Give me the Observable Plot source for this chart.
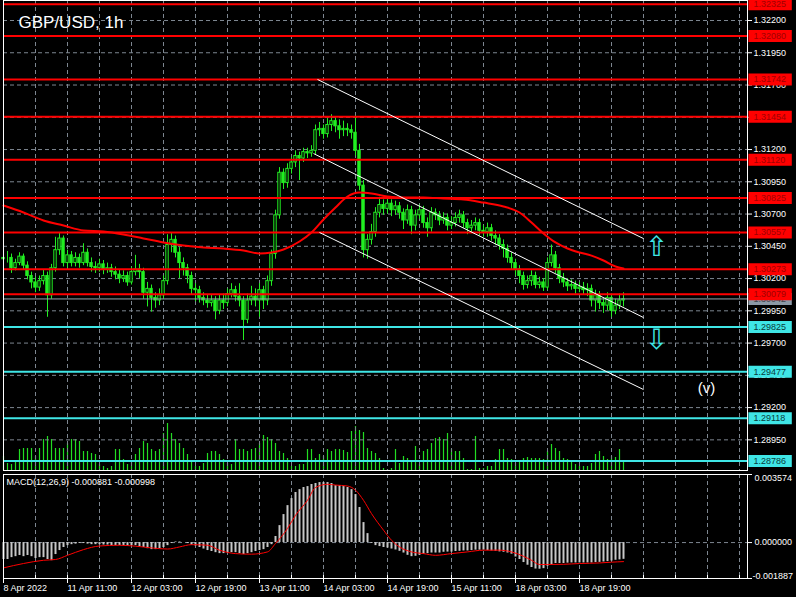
<!DOCTYPE html>
<html><head><meta charset="utf-8">
<script src="https://cdn.jsdelivr.net/npm/d3@7"></script>
<script src="https://cdn.jsdelivr.net/npm/@observablehq/plot@0.6"></script>
<style>
html,body{margin:0;padding:0;background:#000;}
#wrap{position:relative;width:796px;height:597px;overflow:hidden;background:#000;}
#wrap svg{position:absolute;left:0;}
</style></head><body><div id="wrap"></div>
<script>
// ---------------- DATA ----------------
const title = "GBP/USD, 1h";
const macdLabel = "MACD(12,26,9) -0.000881 -0.000998";
const timeLabels = ["8 Apr 2022","11 Apr 11:00","12 Apr 03:00","12 Apr 19:00","13 Apr 11:00","14 Apr 03:00","14 Apr 19:00","15 Apr 11:00","18 Apr 03:00","18 Apr 19:00"];
const labelBars = [0,16,32,48,64,80,96,112,128,144];
const gridBars = [8,16,24,32,40,48,56,64,72,80,88,96,104,112,120,128,136,144,152,160,168,176,184];
const priceTicks = [1.2895,1.2920,1.2945,1.2970,1.2995,1.3020,1.3045,1.3070,1.3095,1.3120,1.3145,1.3170,1.3195,1.3220];
const redLevels = [1.32325,1.32080,1.31742,1.31454,1.31120,1.30825,1.30557,1.30273,1.30079];
const cyanLevels = [1.29825,1.29477,1.29118,1.28786];
const bidPrice = 1.30042;
const macdTicks = [-0.001887,0,0.003574];

const open = [1.3035,1.3036,1.3036,1.3028,1.3032,1.3037,1.3030,1.3022,1.3017,1.3013,
1.3018,1.3022,1.3007,1.3028,1.3042,1.3051,1.3032,1.3038,1.3032,1.3036,
1.3032,1.3040,1.3032,1.3029,1.3028,1.3031,1.3027,1.3028,1.3025,1.3023,
1.3020,1.3022,1.3017,1.3025,1.3027,1.3025,1.3009,1.3012,1.3005,1.3003,
1.3007,1.3018,1.3046,1.3050,1.3040,1.3032,1.3028,1.3022,1.3012,1.3011,
1.3005,1.3003,1.3001,1.3003,1.2995,1.3003,1.3001,1.3008,1.3011,1.3006,
1.3003,1.2988,1.3003,1.3006,1.3003,1.3011,1.3003,1.3018,1.3039,1.3069,
1.3102,1.3094,1.3105,1.3110,1.3115,1.3113,1.3118,1.3117,1.3119,1.3135,
1.3136,1.3132,1.3139,1.3142,1.3138,1.3135,1.3136,1.3135,1.3133,1.3119,
1.3092,1.3042,1.3050,1.3056,1.3071,1.3077,1.3074,1.3078,1.3073,1.3076,
1.3071,1.3065,1.3073,1.3061,1.3069,1.3073,1.3063,1.3059,1.3071,1.3069,
1.3065,1.3067,1.3061,1.3063,1.3067,1.3069,1.3063,1.3059,1.3061,1.3063,
1.3057,1.3056,1.3059,1.3053,1.3051,1.3046,1.3043,1.3036,1.3032,1.3027,
1.3022,1.3015,1.3018,1.3022,1.3015,1.3017,1.3013,1.3032,1.3038,1.3028,
1.3020,1.3017,1.3014,1.3015,1.3012,1.3013,1.3011,1.3012,1.3003,
1.3007,1.3001,1.2999,1.3005,1.2995,1.2999,1.3003];
const high = [1.3040,1.3041,1.3039,1.3035,1.3040,1.3039,1.3033,1.3025,1.3021,1.3022,
1.3027,1.3025,1.3031,1.3052,1.3055,1.3053,1.3042,1.3041,1.3040,1.3039,
1.3047,1.3043,1.3036,1.3033,1.3035,1.3034,1.3032,1.3031,1.3029,1.3027,
1.3026,1.3025,1.3029,1.3038,1.3031,1.3028,1.3017,1.3015,1.3009,1.3012,
1.3022,1.3054,1.3055,1.3053,1.3044,1.3036,1.3031,1.3025,1.3016,1.3014,
1.3009,1.3007,1.3007,1.3006,1.3007,1.3008,1.3012,1.3016,1.3014,1.3016,
1.3006,1.3008,1.3014,1.3012,1.3016,1.3014,1.3022,1.3042,1.3073,1.3106,
1.3105,1.3109,1.3114,1.3119,1.3118,1.3121,1.3121,1.3123,1.3139,1.3141,
1.3139,1.3144,1.3147,1.3145,1.3143,1.3142,1.3140,1.3139,1.3146,1.3124,
1.3096,1.3054,1.3062,1.3075,1.3083,1.3081,1.3082,1.3081,1.3080,1.3079,
1.3074,1.3077,1.3076,1.3073,1.3077,1.3076,1.3067,1.3075,1.3074,1.3072,
1.3071,1.3070,1.3068,1.3071,1.3073,1.3072,1.3066,1.3065,1.3067,1.3066,
1.3061,1.3063,1.3062,1.3057,1.3054,1.3050,1.3046,1.3040,1.3035,1.3030,
1.3025,1.3022,1.3026,1.3025,1.3021,1.3020,1.3036,1.3046,1.3041,1.3031,
1.3024,1.3020,1.3019,1.3018,1.3017,1.3017,1.3016,1.3015,1.3011,
1.3010,1.3005,1.3009,1.3008,1.3004,1.3008,1.3009];
const low = [1.3031,1.3032,1.3024,1.3026,1.3030,1.3027,1.3019,1.3012,1.3009,1.3010,
1.3015,1.2990,1.3004,1.3025,1.3038,1.3029,1.3028,1.3029,1.3029,1.3028,
1.3030,1.3029,1.3025,1.3024,1.3025,1.3023,1.3024,1.3021,1.3019,1.3016,
1.3017,1.3014,1.3015,1.3022,1.3020,1.3004,1.2998,1.2994,1.2997,1.2999,
1.3004,1.3015,1.3040,1.3036,1.3020,1.3022,1.3016,1.3007,1.3002,1.3001,
1.2999,1.2997,1.2998,1.2988,1.2992,1.2996,1.2998,1.3005,1.3002,1.2998,
1.2972,1.2985,1.2999,1.2998,1.2990,1.2996,1.2999,1.3014,1.3035,1.3066,
1.3089,1.3090,1.3101,1.3106,1.3096,1.3110,1.3113,1.3114,1.3116,1.3130,
1.3128,1.3129,1.3134,1.3133,1.3128,1.3130,1.3130,1.3128,1.3115,1.3088,
1.3036,1.3035,1.3046,1.3052,1.3067,1.3069,1.3070,1.3068,1.3069,1.3066,
1.3058,1.3062,1.3054,1.3057,1.3066,1.3059,1.3052,1.3056,1.3065,1.3061,
1.3062,1.3057,1.3058,1.3060,1.3063,1.3059,1.3054,1.3055,1.3057,1.3053,
1.3052,1.3052,1.3049,1.3046,1.3042,1.3036,1.3032,1.3027,1.3022,1.3016,
1.3011,1.3012,1.3014,1.3012,1.3012,1.3010,1.3011,1.3029,1.3024,1.3016,
1.3013,1.3010,1.3011,1.3008,1.3009,1.3007,1.3006,1.2998,1.2994,
1.2996,1.2993,1.2995,1.2990,1.2992,1.2996,1.2998];
const close = [1.3036,1.3036,1.3028,1.3032,1.3037,1.3030,1.3022,1.3017,1.3013,1.3018,
1.3022,1.3007,1.3028,1.3042,1.3051,1.3032,1.3038,1.3032,1.3036,1.3032,
1.3040,1.3032,1.3029,1.3028,1.3031,1.3027,1.3028,1.3025,1.3023,1.3020,
1.3022,1.3017,1.3025,1.3027,1.3025,1.3009,1.3012,1.3005,1.3003,1.3007,
1.3018,1.3046,1.3050,1.3040,1.3032,1.3028,1.3022,1.3012,1.3011,1.3005,
1.3003,1.3001,1.3003,1.2995,1.3003,1.3001,1.3008,1.3011,1.3006,1.3003,
1.2988,1.3003,1.3006,1.3003,1.3011,1.3003,1.3018,1.3039,1.3069,1.3102,
1.3094,1.3105,1.3110,1.3115,1.3113,1.3118,1.3117,1.3119,1.3135,1.3136,
1.3132,1.3139,1.3142,1.3138,1.3135,1.3136,1.3135,1.3133,1.3119,1.3092,
1.3042,1.3050,1.3056,1.3071,1.3077,1.3074,1.3078,1.3073,1.3076,1.3071,
1.3065,1.3073,1.3061,1.3069,1.3073,1.3063,1.3059,1.3071,1.3069,1.3065,
1.3067,1.3061,1.3063,1.3067,1.3069,1.3063,1.3059,1.3061,1.3063,1.3057,
1.3056,1.3059,1.3053,1.3051,1.3046,1.3043,1.3036,1.3032,1.3027,1.3022,
1.3015,1.3018,1.3022,1.3015,1.3017,1.3013,1.3032,1.3038,1.3028,1.3020,
1.3017,1.3014,1.3015,1.3012,1.3013,1.3011,1.3012,1.3003,1.3007,
1.3001,1.2999,1.3005,1.2995,1.2999,1.3003,1.3004];
const volume = [1400,700,600,900,2100,2200,2200,2200,1400,2200,
3100,3400,3100,2200,2200,2200,2700,3100,3100,2900,
1900,1900,1700,1600,600,400,200,400,2100,2100,
1100,600,900,1600,2200,2900,2700,2100,1900,2100,
3700,4700,3700,3100,2700,2200,1600,900,400,400,
700,1700,1900,1900,1600,1100,700,600,3100,2100,
2100,1900,2100,2200,2700,3500,3300,3100,2700,1900,
1700,1200,400,400,600,600,2100,2100,1200,1600,
1400,2100,1900,2100,2100,2000,1800,3900,4400,4000,
3800,2200,1900,1700,1200,200,100,200,2100,700,
1400,1200,900,2400,600,1900,2100,2700,3200,3300,
3100,3700,2100,1900,1900,1200,100,100,3400,200,
200,400,400,1100,2100,2100,1200,1100,700,900,
1200,1300,1200,1200,1200,1100,1900,2600,2200,1900,
1200,1100,900,600,400,400,400,700,1600,1900,
1400,1100,1400,1300,2100,800];
const macdHist = [-0.00089,-0.00089,-0.00079,-0.00074,-0.00068,-0.00074,-0.00068,-0.00074,-0.00084,-0.00079,
-0.00079,-0.00089,-0.00095,-0.00063,-0.00042,-0.00026,-0.00016,-0.00011,-0.00008,-0.00005,
-0.00005,-0.00008,-0.00011,-0.00011,-0.00011,-0.00013,-0.00013,-0.00016,-0.00016,-0.00016,
-0.00016,-0.00018,-0.00016,-0.00016,-0.00021,-0.00026,-0.00032,-0.00037,-0.00037,-0.00032,
-0.00026,-0.00016,-0.00005,0.00003,0.00003,0,-0.00005,-0.00013,-0.00018,-0.00026,
-0.00034,-0.00042,-0.00047,-0.00053,-0.00058,-0.00058,-0.00053,-0.00053,-0.00053,-0.00058,
-0.00063,-0.00058,-0.00053,-0.00047,-0.00042,-0.00037,-0.00026,-0.00011,0.00032,0.00089,
0.00147,0.00194,0.00231,0.00263,0.00278,0.00289,0.00294,0.00305,0.00310,0.00315,
0.00315,0.00315,0.00310,0.00299,0.00299,0.00294,0.00289,0.00278,0.00252,0.00184,
0.00105,0.00047,-0.00005,-0.00016,-0.00021,-0.00026,-0.00029,-0.00034,-0.00039,-0.00046,
-0.00055,-0.00067,-0.00074,-0.00072,-0.00067,-0.00061,-0.00058,-0.00055,-0.00055,-0.00055,
-0.00051,-0.00050,-0.00050,-0.00047,-0.00046,-0.00044,-0.00044,-0.00042,-0.00040,-0.00040,
-0.00040,-0.00042,-0.00044,-0.00046,-0.00049,-0.00051,-0.00055,-0.00061,-0.00076,-0.00089,
-0.00105,-0.00119,-0.00131,-0.00139,-0.00140,-0.00137,-0.00124,-0.00116,-0.00110,-0.00110,
-0.00110,-0.00108,-0.00107,-0.00107,-0.00107,-0.00107,-0.00107,-0.00107,-0.00105,
-0.00104,-0.00102,-0.00100,-0.00097,-0.00093,-0.00091,-0.00088];
const signalBars = [0,5,10,13,16,20,24,29,33,37,41,44,47,51,54,58,62,66,68,71,73,76,78,81,83,86,88,90,92,95,97,99,102,105,108,112,116,120,124,127,130,132,134,136,140,144,149,152,155];
const signalValues = [-0.00133,-0.0011,-0.00093,-0.00089,-0.00067,-0.00037,-0.00018,-0.00014,-0.00019,-0.00028,-0.00034,-0.00023,-0.00011,-0.00014,-0.0004,-0.00058,-0.00061,-0.00049,-0.00005,0.00074,0.00143,0.00222,0.00289,0.00306,0.00302,0.00297,0.00275,0.00222,0.00152,0.00065,0.00012,-0.00023,-0.00049,-0.00058,-0.00067,-0.00058,-0.00049,-0.0004,-0.0004,-0.00049,-0.00072,-0.00093,-0.00115,-0.00115,-0.00114,-0.0011,-0.00107,-0.00103,-0.00100];
const maBars = [0,5,10,15,20,25,30,35,40,45,50,55,60,64,67,70,74,77,80,83,86,89,92,96,100,105,110,115,120,125,129,132,135,138,141,144,147,150,153,155];
const maValues = [1.30766,1.30712,1.3065,1.30611,1.30573,1.30565,1.30542,1.30511,1.3048,1.30456,1.30441,1.30433,1.30418,1.30394,1.30402,1.30425,1.30487,1.30557,1.30658,1.30751,1.30836,1.30867,1.30859,1.30836,1.30828,1.30828,1.3082,1.30813,1.30789,1.30759,1.30712,1.30635,1.3055,1.3048,1.30433,1.30402,1.30378,1.3034,1.30293,1.30278];
const channelStartBar = [78.5,77.5,79];
const channelStartPrice = [1.31743,1.31169,1.30557];
const channelEndBar = [160,160,160];
const channelEndPrice = [1.30510,1.29898,1.29340];
const annotations = [
  {bar:163.25, price:1.30441, text:"⇧", kind:"arrow"},
  {bar:163.25, price:1.29720, text:"⇩", kind:"arrow"},
  {bar:175.75, price:1.29348, text:"(v)", kind:"label"}
];

// ---------------- DRAWING ----------------
const FONT = '"Liberation Sans", Arial, sans-serif';
const GRID = "#7d8690";
const RED = "#ff0000";
const CYAN = "#3fe6e6";
const CANDLE = "#22ee22";
const VOL = "#22dd22";
const X_DOMAIN = [0, 186];
const BOX1 = 186.35, BOX2 = 197.2;

const bars = close.map((c, i) => ({i, o: open[i], h: high[i], l: low[i], c}));
const vols = volume.map((v, i) => ({i, v}));
const hist = macdHist.map((v, i) => ({i, v}));
const ma = maBars.map((b, k) => ({b, v: maValues[k]}));
const sig = signalBars.map((b, k) => ({b, v: signalValues[k]}));
const channels = channelStartBar.map((b, k) => ({x1: b, y1: channelStartPrice[k], x2: channelEndBar[k], y2: channelEndPrice[k]}));

const common = {
  width: 796, marginLeft: 3, marginRight: 49,
  style: {background: "transparent", color: "white", fontFamily: FONT, fontSize: "9px", overflow: "visible"}
};

const volPlot = Plot.plot({
  ...common, height: 471, marginTop: 0, marginBottom: 1,
  x: {domain: X_DOMAIN, axis: null},
  y: {domain: [0, 47000], axis: null},
  marks: [
    Plot.ruleX(vols, {x: "i", y1: 0, y2: "v", stroke: VOL, strokeWidth: 1.2})
  ]
});

const mainPlot = Plot.plot({
  ...common, height: 471, marginTop: 0, marginBottom: 1,
  x: {domain: X_DOMAIN, axis: null},
  y: {domain: [1.287125, 1.32355], axis: null},
  marks: [
    Plot.ruleY(priceTicks, {stroke: GRID, strokeDasharray: "4,3"}),
    Plot.ruleX(gridBars, {stroke: GRID, strokeDasharray: "4,3"}),
    Plot.ruleX(bars, {x: "i", y1: "l", y2: "h", stroke: CANDLE, strokeWidth: 1}),
    Plot.rect(bars, {x1: d => d.i - 0.3, x2: d => d.i + 0.3, y1: "o", y2: "c",
      fill: d => d.c >= d.o ? "#000" : CANDLE, stroke: CANDLE, strokeWidth: 1}),
    Plot.line(ma, {x: "b", y: "v", stroke: RED, strokeWidth: 2, curve: "monotone-x"}),
    Plot.ruleY([bidPrice], {stroke: "#9aa4ad", strokeWidth: 1}),
    Plot.ruleY(redLevels, {stroke: RED, strokeWidth: 2}),
    Plot.ruleY(cyanLevels, {stroke: CYAN, strokeWidth: 2}),
    Plot.link(channels, {x1: "x1", y1: "y1", x2: "x2", y2: "y2", stroke: "white", strokeWidth: 1}),
    Plot.text(annotations.filter(a => a.kind === "arrow"), {x: "bar", y: "price", text: "text",
      fill: CYAN, fontSize: 28, fontFamily: "DejaVu Sans"}),
    Plot.text(annotations.filter(a => a.kind === "label"), {x: "bar", y: "price", text: "text",
      fill: "white", fontSize: 15}),
    Plot.frame({stroke: "white"}),
    Plot.axisY({anchor: "right", ticks: priceTicks, tickSize: 4, tickPadding: 2, label: null,
      tickFormat: d => d.toFixed(5), fill: "white", stroke: "white", fontSize: 9}),
    Plot.ruleY([bidPrice], {x1: BOX1, x2: BOX2, stroke: "#8c99a6", strokeWidth: 12}),
    Plot.text([bidPrice], {y: d => d, frameAnchor: "right", dx: 6, textAnchor: "start",
      text: d => d.toFixed(5), fill: "#3c4650", fontSize: 9}),
    Plot.ruleY(redLevels, {x1: BOX1, x2: BOX2, stroke: RED, strokeWidth: 12}),
    Plot.text(redLevels, {y: d => d, frameAnchor: "right", dx: 6, textAnchor: "start",
      text: d => d.toFixed(5), fill: "#a00000", fontSize: 9}),
    Plot.ruleY(cyanLevels, {x1: BOX1, x2: BOX2, stroke: CYAN, strokeWidth: 12}),
    Plot.text(cyanLevels, {y: d => d, frameAnchor: "right", dx: 6, textAnchor: "start",
      text: d => d.toFixed(5), fill: "#0a3a3a", fontSize: 9}),
    Plot.text([title], {frameAnchor: "top-left", dx: 15, dy: 15, textAnchor: "start", lineAnchor: "top",
      text: d => d, fill: "white", fontSize: 17})
  ]
});

const macdPlot = Plot.plot({
  ...common, height: 126, marginTop: 3, marginBottom: 19,
  x: {domain: X_DOMAIN, axis: null},
  y: {domain: [macdTicks[0], macdTicks[2]], axis: null},
  marks: [
    Plot.ruleX(gridBars, {stroke: GRID, strokeDasharray: "4,3"}),
    Plot.ruleY([0], {stroke: GRID, strokeDasharray: "4,3"}),
    Plot.ruleX(hist, {x: "i", y1: 0, y2: "v", stroke: "#c8c8c8", strokeWidth: 2}),
    Plot.line(sig, {x: "b", y: "v", stroke: RED, strokeWidth: 1, curve: "monotone-x"}),
    Plot.frame({stroke: "white"}),
    Plot.ruleX(gridBars, {stroke: "white", insetTop: 101}),
    Plot.axisY({anchor: "right", ticks: macdTicks, tickSize: 4, label: null, tickFormat: () => "", stroke: "white"}),
    Plot.text([macdTicks[2]], {y: d => d, frameAnchor: "right", dx: 7, textAnchor: "start", lineAnchor: "top",
      text: d => d.toFixed(6), fill: "white", fontSize: 9}),
    Plot.text([macdTicks[1]], {y: d => d, frameAnchor: "right", dx: 7, textAnchor: "start", lineAnchor: "middle",
      text: d => d.toFixed(6), fill: "white", fontSize: 9}),
    Plot.text([macdTicks[0]], {y: d => d, frameAnchor: "right", dx: 5, textAnchor: "start", lineAnchor: "bottom",
      text: d => d.toFixed(6), fill: "white", fontSize: 9}),
    Plot.text([macdLabel], {frameAnchor: "top-left", dx: 3, dy: 4, textAnchor: "start", lineAnchor: "top",
      text: d => d, fill: "white", fontSize: 9}),
    Plot.axisX({anchor: "bottom", ticks: labelBars, tickSize: 5, tickPadding: 1, label: null,
      tickFormat: d => timeLabels[labelBars.indexOf(d)], textAnchor: "start", fill: "white", stroke: "white", fontSize: 9})
  ]
});

const wrap = document.getElementById("wrap");
volPlot.style.top = "0px";
mainPlot.style.top = "0px";
macdPlot.style.top = "471px";
wrap.append(volPlot, mainPlot, macdPlot);
</script>
</body></html>
